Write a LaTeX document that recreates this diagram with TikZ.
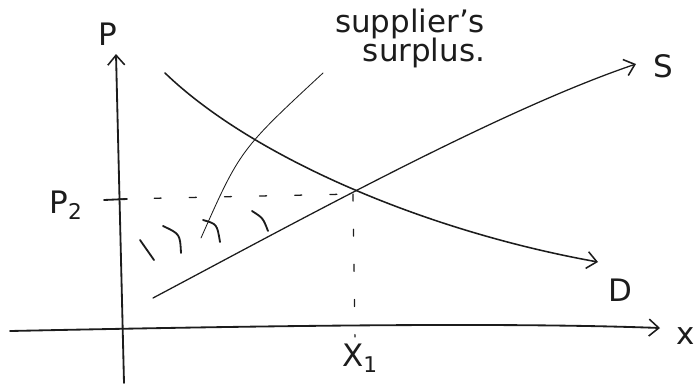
\documentclass[tikz,border=0pt]{standalone}
\usepackage{fontspec}
\setmainfont{DejaVu Sans}
\usepackage{tikz}
\usetikzlibrary{arrows.meta}
\definecolor{sketchInk}{HTML}{1C1C1C}

\tikzset{
  penTip/.style={-{Straight Barb[length=7pt,width=12pt,line width=1.1pt]}},
  axisLine/.style={sketchInk, line width=1.3pt, penTip},
  curveLine/.style={sketchInk, line width=1.1pt, penTip},
  guideLine/.style={sketchInk, line width=0.9pt, dash pattern=on 5pt off 20pt},
  hatchMark/.style={sketchInk, line width=1.3pt},
  sketchLabel/.style={text=sketchInk, inner sep=0pt, font=\fontsize{22}{24}\selectfont},
}

\begin{document}
\begin{tikzpicture}[x=0.025cm, y=-0.025cm, line cap=round]
            \useasboundingbox (0,0) rectangle (697,384);
            % axes
            \coordinate (yBottom) at (124,383);
            \coordinate (yTop) at (116,54);
            \coordinate (xLeft) at (10,331);
            \coordinate (xRight) at (660,328);
            \draw[axisLine] (yBottom) -- (yTop);
            \draw[axisLine] (xLeft) .. controls (250,326) and (500,322) .. (xRight);
            \node[sketchLabel] (pLabel) at (108,34) {P};
            \node[sketchLabel, anchor=east] (xLabel) at (695,336) {x};
            % demand and supply
            \coordinate (dStart) at (165,73);
            \coordinate (dEnd) at (598,262);
            \coordinate (sStart) at (153,298);
            \coordinate (sEnd) at (636,64);
            \coordinate (eq) at (353,194);
            \draw[curveLine] (dStart) .. controls (250,155) and (420,230) .. (dEnd);
            \draw[curveLine, line width=0.9pt] (sStart) .. controls (300,220) and (500,110) .. (sEnd);
            \node[sketchLabel] (dLabel) at (620,290) {D};
            \node[sketchLabel] (sLabel) at (663,66) {S};
            % equilibrium guides
            \coordinate (pTick) at (119,199);
            \coordinate (xTick) at (355,337);
            \draw[guideLine] (pTick) -- (eq);
            \draw[guideLine] (eq) -- (xTick);
            \draw[hatchMark] (104,200) -- (127,199);
            \node[sketchLabel] (pTwo) at (66,205) {P\textsubscript{2}};
            \node[sketchLabel] (xOne) at (360,358) {X\textsubscript{1}};
            % surplus hatching
            \draw[hatchMark] (140,240) -- (154,260);
            \draw[hatchMark] (163,226) .. controls (180,234) .. (181,253);
            \draw[hatchMark] (203,220) .. controls (217,224) .. (220,242);
            \draw[hatchMark] (252,211) .. controls (263,218) .. (268,231);
            % annotation
            \node[sketchLabel, font=\fontsize{22}{24}\selectfont] (noteTop) at (410,24) {supplier's};
            \node[sketchLabel, font=\fontsize{22}{24}\selectfont] (noteBottom) at (424,53) {surplus.};
            \coordinate (noteFoot) at (201,238);
            \draw[sketchInk, line width=0.6pt] (323,73) .. controls (240,150) .. (noteFoot);
        \end{tikzpicture}
\end{document}
